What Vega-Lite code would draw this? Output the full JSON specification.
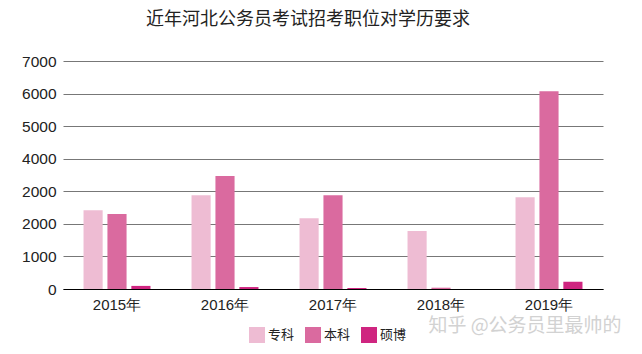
{
  "$schema": "https://vega.github.io/schema/vega-lite/v6.json",
  "autosize": "none",
  "width": 540,
  "height": 228,
  "padding": {"left": 63, "top": 61, "right": 39, "bottom": 65},
  "background": "white",
  "title": {
    "text": "近年河北公务员考试招考职位对学历要求",
    "fontSize": 18,
    "font": "Noto Sans CJK SC",
    "fontWeight": "normal",
    "color": "#222222",
    "anchor": "middle",
    "dx": -25,
    "offset": 25
  },
  "config": {
    "view": {"stroke": null},
    "font": "Liberation Sans",
    "axisY": {
      "values": [0, 1000, 2000, 3000, 4000, 5000, 6000, 7000],
      "labelExpr": "datum.value == 3000 ? '2000' : datum.label",
      "format": "d",
      "labelFontSize": 15.5,
      "labelFont": "Liberation Sans",
      "labelColor": "#222222",
      "labelPadding": 7,
      "ticks": false,
      "domain": false,
      "gridColor": "#777777",
      "gridWidth": 1,
      "labelOverlap": false,
      "title": null
    }
  },
  "data": {
    "values": [
      {"year": "2015年", "type": "专科", "value": 2414},
      {"year": "2015年", "type": "本科", "value": 2300},
      {"year": "2015年", "type": "硕博", "value": 95},
      {"year": "2016年", "type": "专科", "value": 2880},
      {"year": "2016年", "type": "本科", "value": 3470},
      {"year": "2016年", "type": "硕博", "value": 60},
      {"year": "2017年", "type": "专科", "value": 2170},
      {"year": "2017年", "type": "本科", "value": 2880},
      {"year": "2017年", "type": "硕博", "value": 30},
      {"year": "2018年", "type": "专科", "value": 1780},
      {"year": "2018年", "type": "本科", "value": 40},
      {"year": "2018年", "type": "硕博", "value": 0},
      {"year": "2019年", "type": "专科", "value": 2820},
      {"year": "2019年", "type": "本科", "value": 6070},
      {"year": "2019年", "type": "硕博", "value": 225}
    ]
  },
  "layer": [
    {
      "mark": {"type": "bar"},
      "encoding": {
        "x": {
          "field": "year",
          "type": "nominal",
          "scale": {"paddingInner": 0.38, "paddingOuter": 0.19},
          "axis": {
            "title": null,
            "labelAngle": 0,
            "labelFontSize": 15,
            "labelColor": "#222222",
            "labelFont": "Liberation Sans",
            "labelPadding": 8,
            "ticks": false,
            "domainColor": "#000000",
            "domainWidth": 1.2
          }
        },
        "xOffset": {
          "field": "type",
          "type": "nominal",
          "scale": {"domain": ["专科", "本科", "硕博"], "paddingInner": 0.2, "paddingOuter": 0}
        },
        "y": {
          "field": "value",
          "type": "quantitative",
          "scale": {"domain": [0, 7000]},
          "axis": {"values": [0, 1000, 2000, 3000, 4000, 5000, 6000, 7000], "tickCount": 8}
        },
        "color": {
          "field": "type",
          "type": "nominal",
          "scale": {"domain": ["专科", "本科", "硕博"], "range": ["#EEBCD3", "#DA6A9F", "#CF2580"]},
          "legend": {
            "title": null,
            "orient": "none",
            "legendX": 186,
            "legendY": 266,
            "direction": "horizontal",
            "symbolType": "square",
            "symbolSize": 256,
            "symbolStrokeWidth": 0,
            "symbolOpacity": 1,
            "labelFontSize": 13,
            "labelFont": "Noto Sans CJK SC",
            "labelColor": "#222222",
            "labelOffset": 3,
            "columnPadding": 10,
            "padding": 0
          }
        }
      }
    },
    {
      "data": {"values": [{"label": "知乎 @公务员里最帅的"}]},
      "mark": {"type": "text", "font": "Noto Sans CJK SC", "fontSize": 19, "color": "#d2d2d2", "dx": -24, "baseline": "middle"},
      "encoding": {
        "x": {"datum": "2019年"},
        "y": {"datum": -1135, "axis": {"values": [0, 1000, 2000, 3000, 4000, 5000, 6000, 7000], "tickCount": 8}},
        "text": {"field": "label"}
      }
    }
  ]
}
